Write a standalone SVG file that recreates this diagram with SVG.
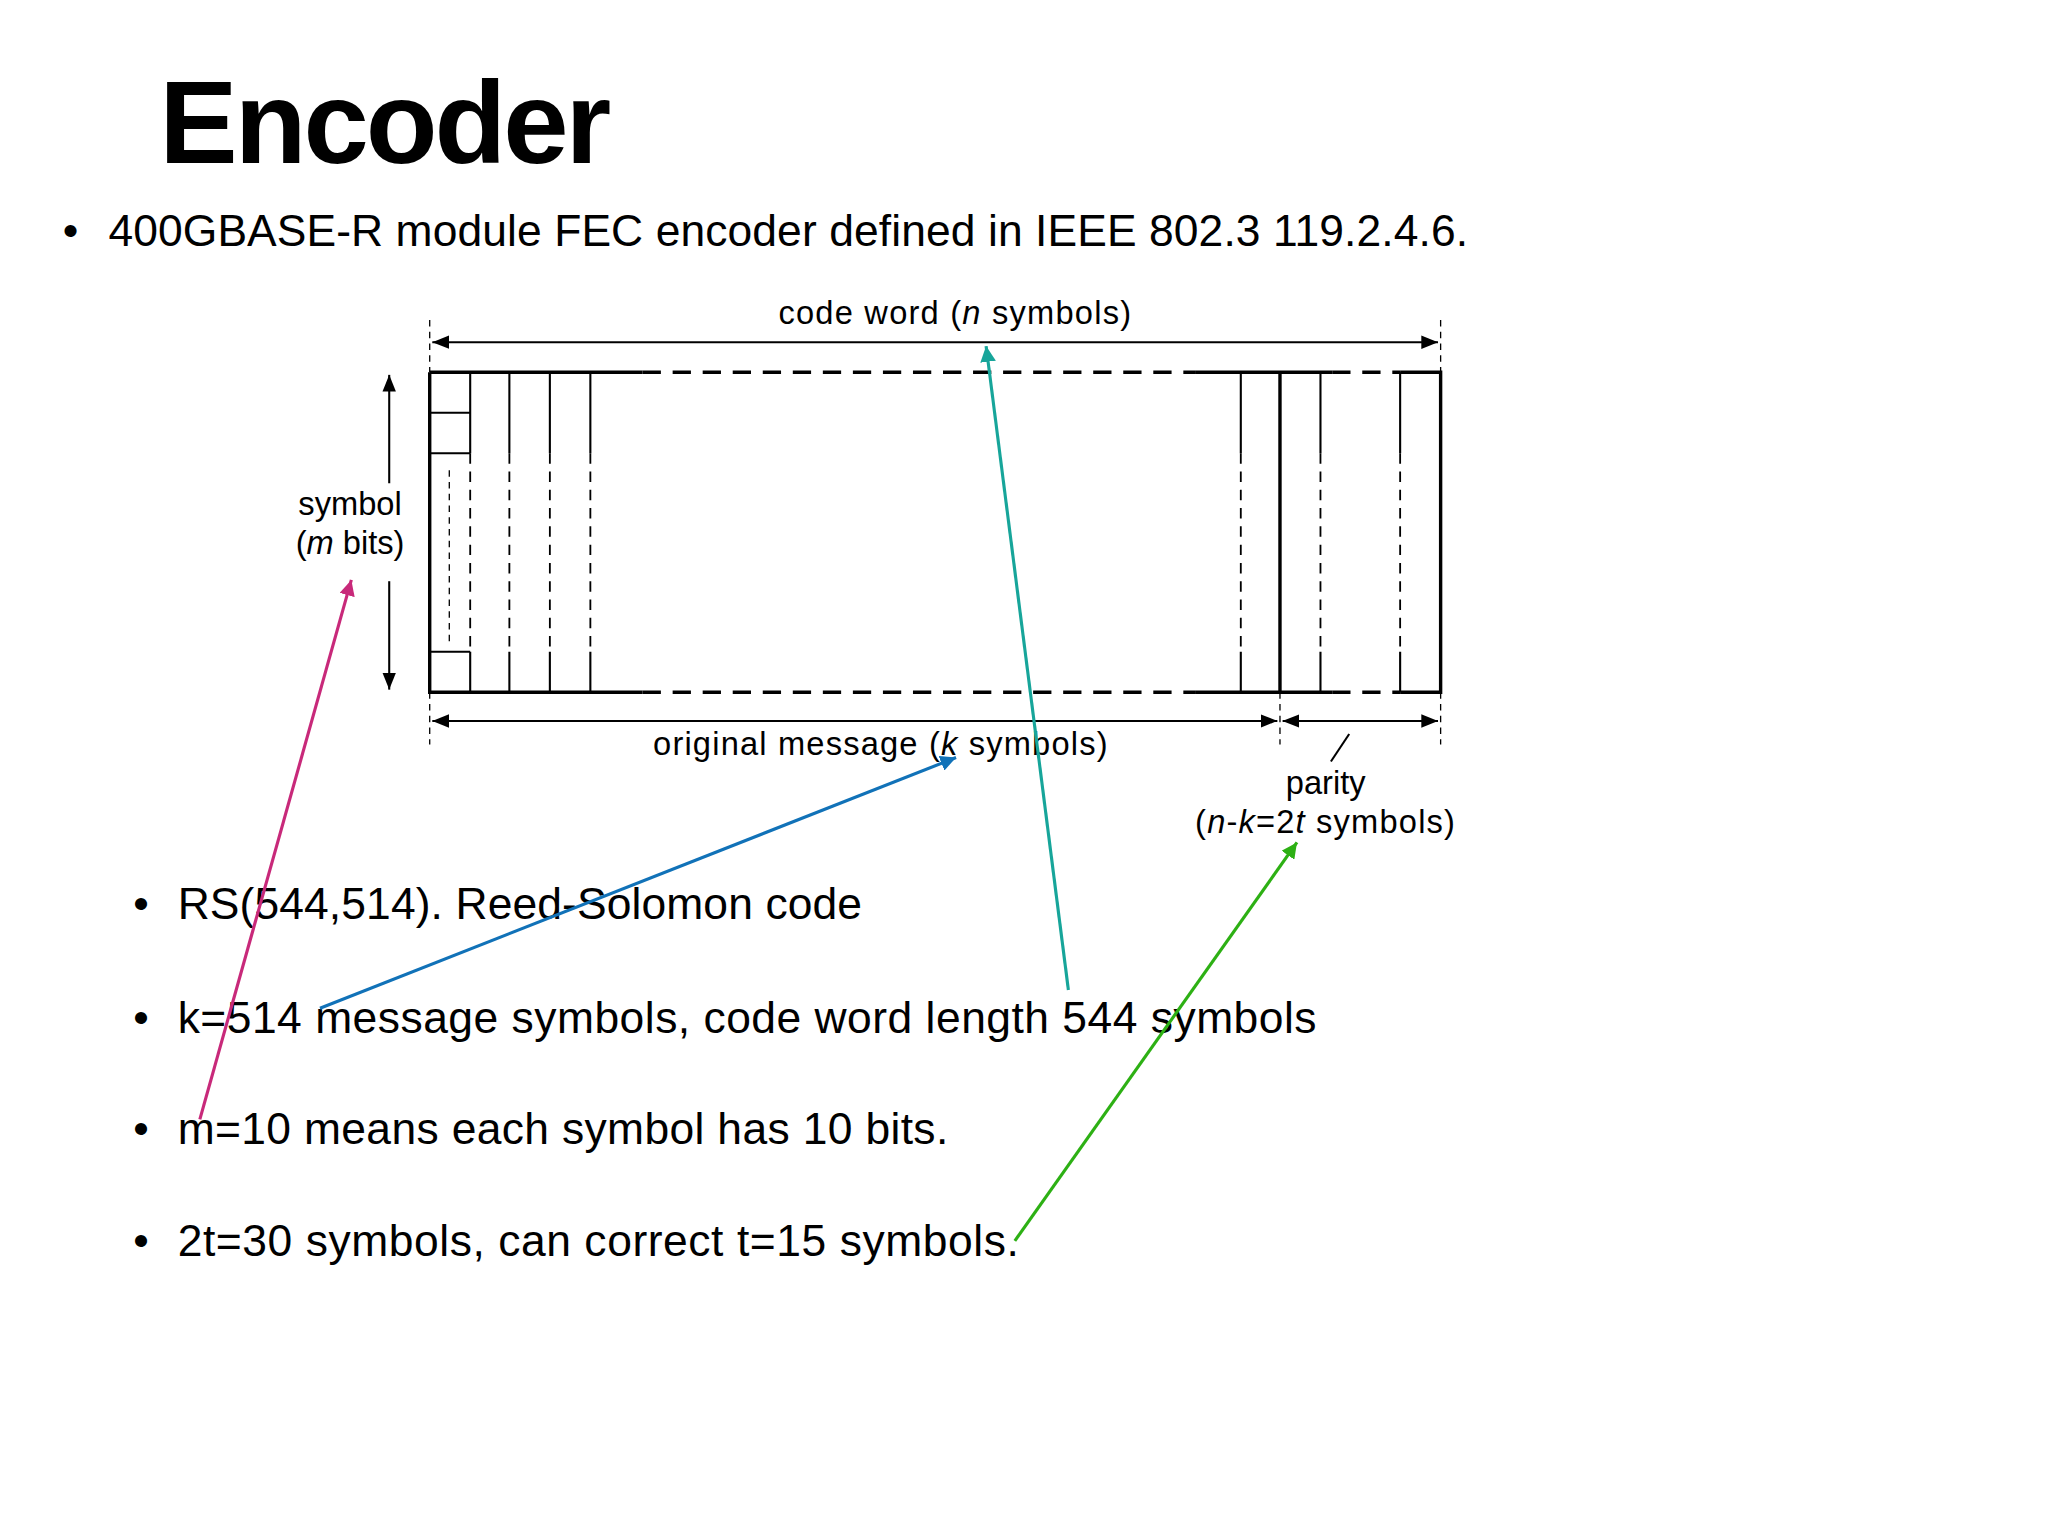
<svg xmlns="http://www.w3.org/2000/svg" width="2048" height="1536" viewBox="0 0 2048 1536">
<defs>
<style>
text{font-family:"Liberation Sans",Arial,sans-serif;fill:#000}
.b{font-size:34px}
.s{font-size:25px}
.ln{stroke:#000;stroke-width:1.6;fill:none}
.tk{stroke:#000;stroke-width:2.6;fill:none}
.d{stroke:#000;stroke-width:1.4;stroke-dasharray:8 6;fill:none}
.dt{stroke:#000;stroke-width:2.6;stroke-dasharray:14 9;fill:none}
.ext{stroke:#000;stroke-width:1;stroke-dasharray:5 4}
</style>
<marker id="ah" viewBox="0 0 10 10" refX="10" refY="5" markerWidth="8" markerHeight="8" orient="auto-start-reverse"><path d="M0,1 L10,5 L0,9 z" fill="#000"/></marker>
<marker id="am" viewBox="0 0 10 10" refX="10" refY="5" markerWidth="5" markerHeight="5" orient="auto"><path d="M0,0 L10,5 L0,10 z" fill="#c8297a"/></marker>
<marker id="ab" viewBox="0 0 10 10" refX="10" refY="5" markerWidth="5" markerHeight="5" orient="auto"><path d="M0,0 L10,5 L0,10 z" fill="#1172b8"/></marker>
<marker id="at" viewBox="0 0 10 10" refX="10" refY="5" markerWidth="5" markerHeight="5" orient="auto"><path d="M0,0 L10,5 L0,10 z" fill="#17a59a"/></marker>
<marker id="ag" viewBox="0 0 10 10" refX="10" refY="5" markerWidth="5" markerHeight="5" orient="auto"><path d="M0,0 L10,5 L0,10 z" fill="#2db014"/></marker>
</defs>
<rect width="2048" height="1536" fill="#fff"/>
<g transform="scale(1.3061)">
<g id="title"><text x="122" y="125" font-size="90" font-weight="bold" textLength="346">Encoder</text></g>
<g id="intro"><text x="48" y="188" class="b">•</text><text x="83" y="188" class="b" textLength="1041">400GBASE-R module FEC encoder defined in IEEE 802.3 119.2.4.6.</text></g>
<g id="codeword-block">
<path class="tk" d="M329,285 H492 M915,285 H1020 M1072,285 H1103 V530 H1072 M1020,530 H915 M492,530 H329 V285"/>
<path class="dt" d="M492,285 H915 M1020,285 H1072 M492,530 H915 M1020,530 H1072"/>
<path class="ln" d="M329,316 H360 M329,347 H360 M329,499 H360"/>
<path class="ln" d="M360,285 V347 M390,285 V347 M421,285 V347 M452,285 V347 M360,499 V530 M390,499 V530 M421,499 V530 M452,499 V530 M950,285 V347 M950,499 V530 M1011,285 V347 M1011,499 V530 M1072,285 V347 M1072,499 V530"/>
<path class="d" d="M360,347 V499 M390,347 V499 M421,347 V499 M452,347 V499 M950,347 V499 M1011,347 V499 M1072,347 V499"/>
<path class="ext" d="M344,360 V495"/>
<path class="tk" d="M980,285 V530"/>
</g>
<g id="dimensions">
<path class="ext" d="M329,245 V285 M1103,245 V285 M329,530 V570 M1103,530 V570 M980,530 V570"/>
<line x1="331" y1="262" x2="1101" y2="262" class="ln" marker-start="url(#ah)" marker-end="url(#ah)"/>
<line x1="331" y1="552" x2="978" y2="552" class="ln" marker-start="url(#ah)" marker-end="url(#ah)"/>
<line x1="982" y1="552" x2="1101" y2="552" class="ln" marker-start="url(#ah)" marker-end="url(#ah)"/>
<line x1="298" y1="287" x2="298" y2="370" class="ln" marker-start="url(#ah)"/>
<line x1="298" y1="445" x2="298" y2="528" class="ln" marker-end="url(#ah)"/>
<line x1="1033" y1="562" x2="1019" y2="583" class="ln"/>
<text x="596" y="248" class="s" textLength="270">code word (<tspan font-style="italic">n</tspan> symbols)</text>
<text x="268" y="394" class="s" text-anchor="middle">symbol</text>
<text x="268" y="424" class="s" text-anchor="middle">(<tspan font-style="italic">m</tspan> bits)</text>
<text x="500" y="578" class="s" textLength="348">original message (<tspan font-style="italic">k</tspan> symbols)</text>
<text x="1015" y="608" class="s" text-anchor="middle">parity</text>
<text x="915" y="638" class="s" textLength="199">(<tspan font-style="italic">n</tspan>-<tspan font-style="italic">k</tspan>=2<tspan font-style="italic">t</tspan> symbols)</text>
</g>
<g id="bullets">
<text x="102" y="704" class="b">•</text><text x="136" y="704" class="b" textLength="524">RS(544,514). Reed-Solomon code</text>
<text x="102" y="791" class="b">•</text><text x="136" y="791" class="b" textLength="872">k=514 message symbols, code word length 544 symbols</text>
<text x="102" y="876" class="b">•</text><text x="136" y="876" class="b" textLength="590">m=10 means each symbol has 10 bits.</text>
<text x="102" y="962" class="b">•</text><text x="136" y="962" class="b" textLength="644">2t=30 symbols, can correct t=15 symbols.</text>
</g>
<g id="connectors" fill="none" stroke-width="2.4">
<line x1="153" y1="857" x2="269" y2="444" stroke="#c8297a" marker-end="url(#am)"/>
<line x1="245" y1="772" x2="732" y2="580" stroke="#1172b8" marker-end="url(#ab)"/>
<line x1="818" y1="758" x2="755" y2="265" stroke="#17a59a" marker-end="url(#at)"/>
<line x1="777" y1="950" x2="993" y2="645" stroke="#2db014" marker-end="url(#ag)"/>
</g>
</g>
</svg>
